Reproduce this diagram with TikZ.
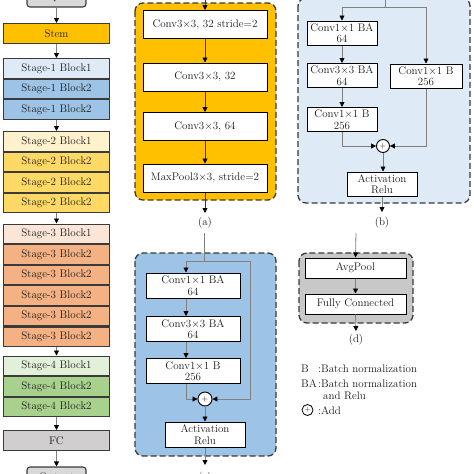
\documentclass[tikz,border=0pt]{standalone}
\usetikzlibrary{arrows.meta,calc}
\definecolor{cstem}{HTML}{FFC000}
\definecolor{csa}{HTML}{DEEBF7}
\definecolor{csb}{HTML}{9DC3E6}
\definecolor{cta}{HTML}{FFF2CC}
\definecolor{ctb}{HTML}{FFD966}
\definecolor{cua}{HTML}{FBE5D6}
\definecolor{cub}{HTML}{F4B183}
\definecolor{cva}{HTML}{E2F0D9}
\definecolor{cvb}{HTML}{A9D18E}
\definecolor{cfc}{HTML}{D0CECE}
\definecolor{cio}{HTML}{D9D9D9}
\definecolor{cpd}{HTML}{C8C8C8}
\definecolor{edge}{HTML}{3A3A3A}
\definecolor{lgray}{HTML}{808080}
\definecolor{txt}{HTML}{1A1A1A}
\begin{document}
\begin{tikzpicture}[x=1pt,y=-1pt,
  font=\fontsize{11}{12}\selectfont, text=txt,
  row/.style={draw=edge, line width=1.1pt, minimum width=106pt, minimum height=19.5pt, inner sep=0pt, anchor=north},
  iobox/.style={draw=edge, fill=cio, line width=1.1pt, rounded corners=3pt, minimum width=59pt, minimum height=21pt, inner sep=0pt},
  arr/.style={draw=lgray, line width=0.8pt, -{Triangle[length=5pt,width=5pt,color=black]}},
  darr/.style={draw=edge, line width=0.8pt, -{Triangle[length=5pt,width=5pt,color=black]}},
  plainline/.style={draw=lgray, line width=0.8pt},
  panel/.style={draw=edge, line width=1.3pt, dash pattern=on 6pt off 3pt, rounded corners=8pt},
  abox/.style={draw=black, fill=white, line width=1pt, minimum width=124pt, minimum height=28pt, inner sep=1pt},
  bbox/.style={draw=black, fill=white, line width=1pt, minimum width=70pt, minimum height=24pt, inner sep=0pt, align=center, font=\fontsize{11}{11.5}\selectfont},
  addc/.style={circle, draw=black, fill=white, line width=0.9pt, minimum size=13pt, inner sep=0pt, font=\fontsize{8}{8}\selectfont},
  lbl/.style={inner sep=0pt}
]
\useasboundingbox (0,0) rectangle (474,474);

% ---------------- left column ----------------
\node[iobox] (in) at (56.5,-3.5) {Input};
\node[row, fill=cstem] (stem) at (56.5,23) {Stem};
\node[row, fill=csa] (s1a) at (56.5,58) {Stage-1 Block1};
\node[row, fill=csb] (s1b) at (s1a.south) {Stage-1 Block2};
\node[row, fill=csb] (s1c) at (s1b.south) {Stage-1 Block2};
\node[row, fill=cta] (s2a) at (56.5,131) {Stage-2 Block1};
\node[row, fill=ctb] (s2b) at (s2a.south) {Stage-2 Block2};
\node[row, fill=ctb] (s2c) at (s2b.south) {Stage-2 Block2};
\node[row, fill=ctb] (s2d) at (s2c.south) {Stage-2 Block2};
\node[row, fill=cua] (s3a) at (56.5,223.5) {Stage-3 Block1};
\node[row, fill=cub] (s3b) at (s3a.south) {Stage-3 Block2};
\node[row, fill=cub] (s3c) at (s3b.south) {Stage-3 Block2};
\node[row, fill=cub] (s3d) at (s3c.south) {Stage-3 Block2};
\node[row, fill=cub] (s3e) at (s3d.south) {Stage-3 Block2};
\node[row, fill=cub] (s3f) at (s3e.south) {Stage-3 Block2};
\node[row, fill=cva] (s4a) at (56.5,355.5) {Stage-4 Block1};
\node[row, fill=cvb] (s4b) at (s4a.south) {Stage-4 Block2};
\node[row, fill=cvb] (s4c) at (s4b.south) {Stage-4 Block2};
\node[row, fill=cfc] (fc) at (56.5,430) {FC};
\node[iobox] (out) at (56.5,477.5) {Output};

\draw[arr] (in.south) -- (stem.north);
\draw[arr] (stem.south) -- (s1a.north);
\draw[arr] (s1c.south) -- (s2a.north);
\draw[arr] (s2d.south) -- (s3a.north);
\draw[arr] (s3f.south) -- (s4a.north);
\draw[arr] (s4c.south) -- (fc.north);
\draw[arr] (fc.south) -- (out.north);

% ---------------- panel (a) ----------------
\draw[panel, fill=cstem] (135,3) rectangle (276,200);
\node[abox] (a1) at (205,24.5) {Conv3$\times$3, 32 stride=2};
\node[abox] (a2) at (205,77) {Conv3$\times$3, 32};
\node[abox] (a3) at (205,126.5) {Conv3$\times$3, 64};
\node[abox] (a4) at (205,178) {MaxPool3$\times$3, stride=2};
\coordinate (ain) at (205,-4);
\coordinate (aout) at (205,213);
\draw[darr] (ain) -- (a1.north);
\draw[darr] (a1.south) -- (a2.north);
\draw[darr] (a2.south) -- (a3.north);
\draw[darr] (a3.south) -- (a4.north);
\draw[darr] (a4.south) -- (aout);
\node[lbl] (alab) at (205,223) {(a)};

% ---------------- panel (b) ----------------
\draw[panel, fill=csa] (298,-2) rectangle (470,203);
\node[bbox] (b1) at (342,33) {Conv1$\times$1 BA\\64};
\node[bbox] (b2) at (342,75.5) {Conv3$\times$3 BA\\64};
\node[bbox] (b3) at (342,119.5) {Conv1$\times$1 B\\256};
\node[bbox, minimum width=72pt] (br) at (426,76) {Conv1$\times$1 B\\256};
\node[addc] (bp) at (383,146) {+};
\node[bbox] (bact) at (382,184) {Activation\\Relu};
\coordinate (bin) at (385,-6);
\coordinate (bj) at (385,7);
\coordinate (bl) at (342,7);
\coordinate (bR) at (426,7);
\coordinate (bout) at (382,212);
\draw[plainline] (bin) -- (bj);
\draw[plainline] (bl) -- (bR);
\draw[arr] (bl) -- (b1.north);
\draw[arr] (b1.south) -- (b2.north);
\draw[arr] (b2.south) -- (b3.north);
\draw[arr] (bR) -- (br.north);
\draw[arr] (b3.south) |- (bp.west);
\draw[arr] (br.south) |- (bp.east);
\draw[arr] (bp.south) -- (bp.south |- bact.north);
\draw[arr] (bact.south) -- (bout);
\node[lbl] (blab) at (382,223) {(b)};

% ---------------- panel (c) ----------------
\draw[panel, fill=csb] (135,253) rectangle (276,456);
\node[bbox, minimum width=94pt, minimum height=25pt] (c1) at (193,285.5) {Conv1$\times$1 BA\\64};
\node[bbox, minimum width=94pt, minimum height=25pt] (c2) at (193,329) {Conv3$\times$3 BA\\64};
\node[bbox, minimum width=94pt, minimum height=25pt] (c3) at (193,371) {Conv1$\times$1 B\\256};
\node[addc, minimum size=14pt] (cp) at (205,399) {+};
\node[bbox, minimum width=80pt, minimum height=25pt] (cact) at (205,434.5) {Activation\\Relu};
\coordinate (cin) at (204,233);
\coordinate (cj) at (204,261);
\coordinate (cl) at (186,261);
\coordinate (cR) at (250,261);
\coordinate (cout) at (205,465);
\draw[plainline] (cin) -- (cj);
\draw[plainline] (cl) -- (cR);
\draw[arr] (cl) -- (cl |- c1.north);
\draw[arr] (c1.south -| cl) -- (c2.north -| cl);
\draw[arr] (c2.south -| cl) -- (c3.north -| cl);
\draw[arr] (c3.south -| cl) |- (cp.west);
\draw[arr] (cR) |- (cp.east);
\draw[arr] (cp.south) -- (cact.north);
\draw[arr] (cact.south) -- (cout);
\node[lbl] (clab) at (205,478) {(c)};

% ---------------- panel (d) ----------------
\draw[panel, fill=cpd] (299,253) rectangle (413,323);
\node[bbox, minimum width=101pt, minimum height=20pt] (d1) at (355.5,268) {AvgPool};
\node[bbox, minimum width=101pt, minimum height=20pt] (d2) at (355.5,304) {Fully Connected};
\coordinate (din) at (356,233);
\coordinate (dout) at (356,331);
\draw[arr] (din) -- (d1.north);
\draw[arr] (d1.south) -- (d2.north);
\draw[arr] (d2.south) -- (dout);
\node[lbl] (dlab) at (356,340) {(d)};

% ---------------- legend ----------------
\node[lbl, anchor=base west] (lg1) at (301,372) {B};
\node[lbl, anchor=base west] (lg1t) at (318,372) {:Batch normalization};
\node[lbl, anchor=base west] (lg2) at (301,387) {BA};
\node[lbl, anchor=base west] (lg2t) at (318,387) {:Batch normalization};
\node[lbl, anchor=base west] (lg3t) at (323,399.5) {and Relu};
\node[addc, minimum size=11pt, line width=0.8pt, font=\fontsize{7}{7}\selectfont] (lg4) at (307.5,410) {+};
\node[lbl, anchor=base west] (lg4t) at (318,414) {:Add};
\end{tikzpicture}
\end{document}
